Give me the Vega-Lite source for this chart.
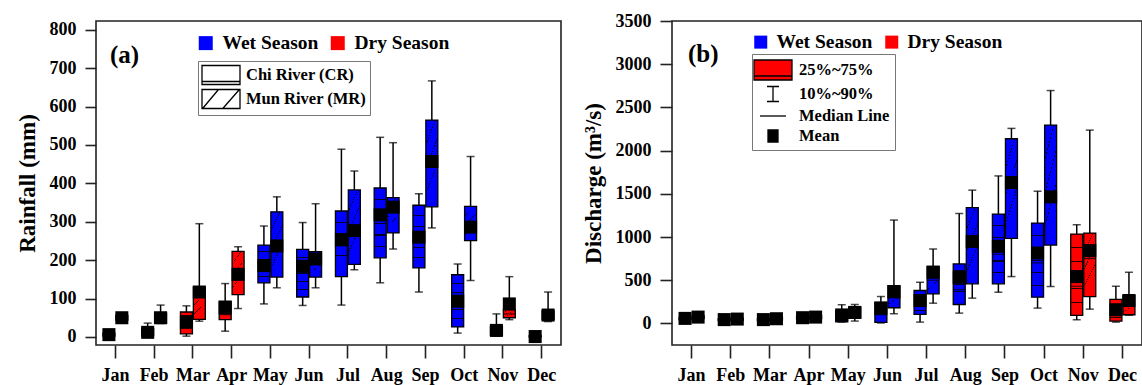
{
  "$schema": "https://vega.github.io/schema/vega-lite/v6.json",
  "background": "white",
  "padding": {"left": 15, "top": 11, "right": 0, "bottom": 0},
  "spacing": 19,
  "datasets": {
    "rain": [
      {"m":"Jan","r":"CR","s":"Dry Season","p10":1,"q1":2,"med":5,"q3":10,"p90":14,"mean":6},
      {"m":"Jan","r":"MR","s":"Dry Season","p10":40,"q1":44,"med":49,"q3":56,"p90":60,"mean":50},
      {"m":"Feb","r":"CR","s":"Dry Season","p10":1,"q1":3,"med":10,"q3":22,"p90":36,"mean":12},
      {"m":"Feb","r":"MR","s":"Dry Season","p10":35,"q1":36,"med":48,"q3":62,"p90":83,"mean":50},
      {"m":"Mar","r":"CR","s":"Dry Season","p10":2,"q1":8,"med":35,"q3":65,"p90":81,"mean":38},
      {"m":"Mar","r":"MR","s":"Dry Season","p10":41,"q1":46,"med":105,"q3":130,"p90":295,"mean":117},
      {"m":"Apr","r":"CR","s":"Dry Season","p10":15,"q1":45,"med":58,"q3":93,"p90":139,"mean":76},
      {"m":"Apr","r":"MR","s":"Dry Season","p10":74,"q1":110,"med":160,"q3":223,"p90":235,"mean":163},
      {"m":"May","r":"CR","s":"Wet Season","p10":86,"q1":141,"med":185,"q3":239,"p90":289,"mean":186},
      {"m":"May","r":"MR","s":"Wet Season","p10":128,"q1":156,"med":230,"q3":326,"p90":365,"mean":237},
      {"m":"Jun","r":"CR","s":"Wet Season","p10":82,"q1":104,"med":170,"q3":228,"p90":298,"mean":184},
      {"m":"Jun","r":"MR","s":"Wet Season","p10":128,"q1":156,"med":200,"q3":222,"p90":347,"mean":203},
      {"m":"Jul","r":"CR","s":"Wet Season","p10":83,"q1":157,"med":245,"q3":328,"p90":489,"mean":253},
      {"m":"Jul","r":"MR","s":"Wet Season","p10":175,"q1":189,"med":270,"q3":383,"p90":432,"mean":277},
      {"m":"Aug","r":"CR","s":"Wet Season","p10":141,"q1":206,"med":320,"q3":388,"p90":520,"mean":318},
      {"m":"Aug","r":"MR","s":"Wet Season","p10":229,"q1":271,"med":335,"q3":363,"p90":506,"mean":338},
      {"m":"Sep","r":"CR","s":"Wet Season","p10":117,"q1":180,"med":255,"q3":343,"p90":373,"mean":260},
      {"m":"Sep","r":"MR","s":"Wet Season","p10":284,"q1":339,"med":450,"q3":565,"p90":667,"mean":457},
      {"m":"Oct","r":"CR","s":"Wet Season","p10":10,"q1":26,"med":90,"q3":162,"p90":190,"mean":93},
      {"m":"Oct","r":"MR","s":"Wet Season","p10":147,"q1":251,"med":290,"q3":340,"p90":470,"mean":286},
      {"m":"Nov","r":"CR","s":"Dry Season","p10":2,"q1":5,"med":15,"q3":28,"p90":60,"mean":17},
      {"m":"Nov","r":"MR","s":"Dry Season","p10":45,"q1":50,"med":60,"q3":71,"p90":157,"mean":86},
      {"m":"Dec","r":"CR","s":"Dry Season","p10":0,"q1":0,"med":1,"q3":3,"p90":5,"mean":1},
      {"m":"Dec","r":"MR","s":"Dry Season","p10":40,"q1":45,"med":52,"q3":68,"p90":117,"mean":57}
    ],
    "dis": [
      {"m":"Jan","r":"CR","s":"Dry Season","p10":30,"q1":40,"med":55,"q3":70,"p90":90,"mean":58},
      {"m":"Jan","r":"MR","s":"Dry Season","p10":45,"q1":55,"med":70,"q3":90,"p90":110,"mean":73},
      {"m":"Feb","r":"CR","s":"Dry Season","p10":25,"q1":32,"med":42,"q3":55,"p90":70,"mean":44},
      {"m":"Feb","r":"MR","s":"Dry Season","p10":28,"q1":35,"med":48,"q3":62,"p90":78,"mean":50},
      {"m":"Mar","r":"CR","s":"Dry Season","p10":25,"q1":32,"med":42,"q3":55,"p90":70,"mean":44},
      {"m":"Mar","r":"MR","s":"Dry Season","p10":30,"q1":38,"med":52,"q3":68,"p90":85,"mean":54},
      {"m":"Apr","r":"CR","s":"Dry Season","p10":40,"q1":50,"med":64,"q3":80,"p90":100,"mean":66},
      {"m":"Apr","r":"MR","s":"Dry Season","p10":45,"q1":55,"med":70,"q3":90,"p90":115,"mean":73},
      {"m":"May","r":"CR","s":"Wet Season","p10":15,"q1":18,"med":80,"q3":150,"p90":216,"mean":98},
      {"m":"May","r":"MR","s":"Wet Season","p10":27,"q1":60,"med":120,"q3":190,"p90":219,"mean":127},
      {"m":"Jun","r":"CR","s":"Wet Season","p10":5,"q1":12,"med":100,"q3":245,"p90":311,"mean":175},
      {"m":"Jun","r":"MR","s":"Wet Season","p10":112,"q1":181,"med":300,"q3":438,"p90":1196,"mean":366},
      {"m":"Jul","r":"CR","s":"Wet Season","p10":15,"q1":104,"med":196,"q3":381,"p90":476,"mean":265},
      {"m":"Jul","r":"MR","s":"Wet Season","p10":234,"q1":342,"med":500,"q3":661,"p90":861,"mean":592},
      {"m":"Aug","r":"CR","s":"Wet Season","p10":119,"q1":219,"med":390,"q3":688,"p90":1272,"mean":534},
      {"m":"Aug","r":"MR","s":"Wet Season","p10":292,"q1":458,"med":900,"q3":1341,"p90":1542,"mean":949},
      {"m":"Sep","r":"CR","s":"Wet Season","p10":361,"q1":458,"med":800,"q3":1265,"p90":1707,"mean":892},
      {"m":"Sep","r":"MR","s":"Wet Season","p10":542,"q1":984,"med":1600,"q3":2137,"p90":2257,"mean":1630},
      {"m":"Oct","r":"CR","s":"Wet Season","p10":177,"q1":303,"med":700,"q3":1161,"p90":1530,"mean":815},
      {"m":"Oct","r":"MR","s":"Wet Season","p10":427,"q1":907,"med":1400,"q3":2295,"p90":2695,"mean":1465},
      {"m":"Nov","r":"CR","s":"Dry Season","p10":42,"q1":92,"med":430,"q3":1034,"p90":1142,"mean":542},
      {"m":"Nov","r":"MR","s":"Dry Season","p10":165,"q1":311,"med":750,"q3":1046,"p90":2237,"mean":842},
      {"m":"Dec","r":"CR","s":"Dry Season","p10":15,"q1":27,"med":120,"q3":277,"p90":430,"mean":158},
      {"m":"Dec","r":"MR","s":"Dry Season","p10":95,"q1":100,"med":200,"q3":323,"p90":592,"mean":265}
    ]
  },
  "config": {
    "font": "Liberation Serif",
    "view": {"stroke": "#222", "strokeWidth": 1.6},
    "axis": {
      "labelFont": "Liberation Serif", "labelFontWeight": "bold", "labelFontSize": 18, "labelColor": "black",
      "titleFont": "Liberation Serif", "titleFontWeight": "bold", "titleFontSize": 23, "titleColor": "black",
      "tickColor": "#222", "tickWidth": 1.6, "domain": false, "grid": false
    },
    "legend": {
      "labelFont": "Liberation Serif", "labelFontWeight": "bold", "labelColor": "black",
      "titleFont": "Liberation Serif", "titleFontWeight": "bold", "titleColor": "black"
    }
  },
  "resolve": {"scale": {"x": "independent", "y": "independent", "fill": "independent", "shape": "independent", "stroke": "independent", "xOffset": "independent"}},
  "hconcat": [
    {
      "width": 465, "height": 324,
      "data": {"name": "rain"},
      "encoding": {
        "x": {"field": "m", "type": "nominal", "scale": {"domain": ["Jan","Feb","Mar","Apr","May","Jun","Jul","Aug","Sep","Oct","Nov","Dec"], "paddingInner": 0, "paddingOuter": 0}, "axis": {"title": null, "labelAngle": 0, "tickSize": 13, "labelPadding": 8}},
        "xOffset": {"field": "r", "type": "nominal", "scale": {"domain": ["CR","MR"], "paddingOuter": 0.5, "paddingInner": 0}}
      },
      "layer": [
        {"mark": {"type": "rule", "color": "black", "strokeWidth": 1.5},
         "encoding": {"y": {"field": "p10", "type": "quantitative", "scale": {"domain": [-21, 823], "nice": false, "zero": false},
            "axis": {"title": "Rainfall (mm)", "values": [0,50,100,150,200,250,300,350,400,450,500,550,600,650,700,750,800], "labelExpr": "datum.value % 100 === 0 ? datum.label : ''", "tickSize": {"condition": {"test": "datum.value % 100 !== 0", "value": 6}, "value": 11}, "labelPadding": 9, "titlePadding": 10}},
          "y2": {"field": "p90"}}},
        {"mark": {"type": "tick", "color": "black", "thickness": 1.5, "size": 8}, "encoding": {"y": {"field": "p10", "type": "quantitative"}}},
        {"mark": {"type": "tick", "color": "black", "thickness": 1.5, "size": 8}, "encoding": {"y": {"field": "p90", "type": "quantitative"}}},
        {"mark": {"type": "bar", "width": 12, "stroke": "black", "strokeWidth": 1.3},
         "encoding": {"y": {"field": "q1", "type": "quantitative"}, "y2": {"field": "q3"},
           "fill": {"field": "s", "type": "nominal", "scale": {"domain": ["Wet Season", "Dry Season"], "range": ["#0000ff", "#ff0000"]},
             "legend": {"title": "(a)", "titleOrient": "left", "titleFontSize": 25, "titlePadding": 56, "titleBaseline": "top", "orient": "none", "legendX": 14, "legendY": 12, "direction": "horizontal", "symbolType": "square", "symbolSize": 196, "symbolStrokeWidth": 0, "labelFontSize": 19.5, "labelOffset": 7, "columnPadding": 9}}}},
        {"transform": [{"filter": "datum.r === 'CR'"}],
         "mark": {"type": "bar", "width": 11, "strokeWidth": 0, "fill": {"gradient": "linear", "x1": 0, "y1": 0, "x2": 0, "y2": 1, "stops": [
            {"offset": 0, "color": "rgba(0,0,0,0)"}, {"offset": 0.16, "color": "rgba(0,0,0,0)"}, {"offset": 0.16, "color": "rgba(0,0,0,0.85)"}, {"offset": 0.175, "color": "rgba(0,0,0,0.85)"}, {"offset": 0.175, "color": "rgba(0,0,0,0)"},
            {"offset": 0.33, "color": "rgba(0,0,0,0)"}, {"offset": 0.33, "color": "rgba(0,0,0,0.85)"}, {"offset": 0.345, "color": "rgba(0,0,0,0.85)"}, {"offset": 0.345, "color": "rgba(0,0,0,0)"},
            {"offset": 0.5, "color": "rgba(0,0,0,0)"}, {"offset": 0.5, "color": "rgba(0,0,0,0.85)"}, {"offset": 0.515, "color": "rgba(0,0,0,0.85)"}, {"offset": 0.515, "color": "rgba(0,0,0,0)"},
            {"offset": 0.665, "color": "rgba(0,0,0,0)"}, {"offset": 0.665, "color": "rgba(0,0,0,0.85)"}, {"offset": 0.68, "color": "rgba(0,0,0,0.85)"}, {"offset": 0.68, "color": "rgba(0,0,0,0)"},
            {"offset": 0.83, "color": "rgba(0,0,0,0)"}, {"offset": 0.83, "color": "rgba(0,0,0,0.85)"}, {"offset": 0.845, "color": "rgba(0,0,0,0.85)"}, {"offset": 0.845, "color": "rgba(0,0,0,0)"},
            {"offset": 1, "color": "rgba(0,0,0,0)"}]}},
         "encoding": {"y": {"field": "q1", "type": "quantitative"}, "y2": {"field": "q3"}}},
        {"transform": [{"filter": "datum.r === 'MR'"}],
         "mark": {"type": "bar", "width": 11, "strokeWidth": 0, "fill": {"gradient": "linear", "x1": 0, "y1": 0, "x2": 0.35, "y2": 1, "stops": [
            {"offset": 0, "color": "rgba(0,0,0,0)"}, {"offset": 0.24, "color": "rgba(0,0,0,0)"}, {"offset": 0.24, "color": "rgba(0,0,0,0.8)"}, {"offset": 0.255, "color": "rgba(0,0,0,0.8)"}, {"offset": 0.255, "color": "rgba(0,0,0,0)"},
            {"offset": 0.49, "color": "rgba(0,0,0,0)"}, {"offset": 0.49, "color": "rgba(0,0,0,0.8)"}, {"offset": 0.505, "color": "rgba(0,0,0,0.8)"}, {"offset": 0.505, "color": "rgba(0,0,0,0)"},
            {"offset": 0.74, "color": "rgba(0,0,0,0)"}, {"offset": 0.74, "color": "rgba(0,0,0,0.8)"}, {"offset": 0.755, "color": "rgba(0,0,0,0.8)"}, {"offset": 0.755, "color": "rgba(0,0,0,0)"},
            {"offset": 1, "color": "rgba(0,0,0,0)"}]}},
         "encoding": {"y": {"field": "q1", "type": "quantitative"}, "y2": {"field": "q3"}}},
        {"mark": {"type": "tick", "color": "black", "thickness": 1.2, "size": 12}, "encoding": {"y": {"field": "med", "type": "quantitative"}}},
        {"mark": {"type": "square", "size": 170, "color": "black", "filled": true, "opacity": 1}, "encoding": {"y": {"field": "mean", "type": "quantitative"}}},
        {"mark": {"type": "point", "opacity": 0, "filled": false},
         "encoding": {"y": {"field": "mean", "type": "quantitative"},
           "shape": {"field": "r", "type": "nominal", "scale": {"domain": ["CR", "MR"], "range": ["M-1.9,-0.95H1.9V0.95H-1.9ZM-1.9,0.65H1.9", "M-1.9,-0.95H1.9V0.95H-1.9ZM-1.84,0.95L-0.25,-0.95M0.18,0.95L1.84,-0.95"]},
             "legend": {"title": null, "orient": "none", "legendX": 102, "legendY": 40, "strokeColor": "#777", "padding": 3, "symbolSize": 400, "symbolOffset": 9, "symbolStrokeColor": "black", "symbolStrokeWidth": 1.3, "symbolFillColor": "transparent", "symbolOpacity": 1, "labelFontSize": 16.5, "labelOffset": 14, "rowPadding": -11,
               "labelExpr": "datum.value === 'CR' ? 'Chi River (CR)' : 'Mun River (MR)'"}}}}
      ]
    },
    {
      "width": 470, "height": 324,
      "resolve": {"scale": {"fill": "independent", "shape": "independent", "stroke": "independent"}},
      "layer": [
        {
          "data": {"name": "dis"},
          "encoding": {
            "x": {"field": "m", "type": "nominal", "scale": {"domain": ["Jan","Feb","Mar","Apr","May","Jun","Jul","Aug","Sep","Oct","Nov","Dec"], "paddingInner": 0, "paddingOuter": 0}, "axis": {"title": null, "labelAngle": 0, "tickSize": 13, "labelPadding": 8}},
            "xOffset": {"field": "r", "type": "nominal", "scale": {"domain": ["CR","MR"], "paddingOuter": 0.5, "paddingInner": 0}}
          },
          "layer": [
            {"mark": {"type": "rule", "color": "black", "strokeWidth": 1.5},
             "encoding": {"y": {"field": "p10", "type": "quantitative", "scale": {"domain": [-250, 3500], "nice": false, "zero": false},
                "axis": {"title": "Discharge (m³/s)", "values": [0,250,500,750,1000,1250,1500,1750,2000,2250,2500,2750,3000,3250,3500], "labelExpr": "datum.value % 500 === 0 ? datum.label : ''", "tickSize": {"condition": {"test": "datum.value % 500 !== 0", "value": 6}, "value": 12}, "labelPadding": 9, "titlePadding": 10, "format": "d"}},
              "y2": {"field": "p90"}}},
            {"mark": {"type": "tick", "color": "black", "thickness": 1.5, "size": 8}, "encoding": {"y": {"field": "p10", "type": "quantitative"}}},
            {"mark": {"type": "tick", "color": "black", "thickness": 1.5, "size": 8}, "encoding": {"y": {"field": "p90", "type": "quantitative"}}},
            {"mark": {"type": "bar", "width": 12, "stroke": "black", "strokeWidth": 1.3},
             "encoding": {"y": {"field": "q1", "type": "quantitative"}, "y2": {"field": "q3"},
               "fill": {"field": "s", "type": "nominal", "scale": {"domain": ["Wet Season", "Dry Season"], "range": ["#0000ff", "#ff0000"]},
                 "legend": {"title": "(b)", "titleOrient": "left", "titleFontSize": 25, "titlePadding": 32, "titleBaseline": "top", "orient": "none", "legendX": 16, "legendY": 11, "direction": "horizontal", "symbolType": "square", "symbolSize": 169, "symbolStrokeWidth": 0, "labelFontSize": 19.5, "labelOffset": 6, "columnPadding": 9}}}},
            {"transform": [{"filter": "datum.r === 'CR'"}],
             "mark": {"type": "bar", "width": 11, "strokeWidth": 0, "fill": {"gradient": "linear", "x1": 0, "y1": 0, "x2": 0, "y2": 1, "stops": [
                {"offset": 0, "color": "rgba(0,0,0,0)"}, {"offset": 0.16, "color": "rgba(0,0,0,0)"}, {"offset": 0.16, "color": "rgba(0,0,0,0.85)"}, {"offset": 0.175, "color": "rgba(0,0,0,0.85)"}, {"offset": 0.175, "color": "rgba(0,0,0,0)"},
                {"offset": 0.33, "color": "rgba(0,0,0,0)"}, {"offset": 0.33, "color": "rgba(0,0,0,0.85)"}, {"offset": 0.345, "color": "rgba(0,0,0,0.85)"}, {"offset": 0.345, "color": "rgba(0,0,0,0)"},
                {"offset": 0.5, "color": "rgba(0,0,0,0)"}, {"offset": 0.5, "color": "rgba(0,0,0,0.85)"}, {"offset": 0.515, "color": "rgba(0,0,0,0.85)"}, {"offset": 0.515, "color": "rgba(0,0,0,0)"},
                {"offset": 0.665, "color": "rgba(0,0,0,0)"}, {"offset": 0.665, "color": "rgba(0,0,0,0.85)"}, {"offset": 0.68, "color": "rgba(0,0,0,0.85)"}, {"offset": 0.68, "color": "rgba(0,0,0,0)"},
                {"offset": 0.83, "color": "rgba(0,0,0,0)"}, {"offset": 0.83, "color": "rgba(0,0,0,0.85)"}, {"offset": 0.845, "color": "rgba(0,0,0,0.85)"}, {"offset": 0.845, "color": "rgba(0,0,0,0)"},
                {"offset": 1, "color": "rgba(0,0,0,0)"}]}},
             "encoding": {"y": {"field": "q1", "type": "quantitative"}, "y2": {"field": "q3"}}},
            {"transform": [{"filter": "datum.r === 'MR'"}],
             "mark": {"type": "bar", "width": 11, "strokeWidth": 0, "fill": {"gradient": "linear", "x1": 0, "y1": 0, "x2": 0.35, "y2": 1, "stops": [
                {"offset": 0, "color": "rgba(0,0,0,0)"}, {"offset": 0.24, "color": "rgba(0,0,0,0)"}, {"offset": 0.24, "color": "rgba(0,0,0,0.8)"}, {"offset": 0.255, "color": "rgba(0,0,0,0.8)"}, {"offset": 0.255, "color": "rgba(0,0,0,0)"},
                {"offset": 0.49, "color": "rgba(0,0,0,0)"}, {"offset": 0.49, "color": "rgba(0,0,0,0.8)"}, {"offset": 0.505, "color": "rgba(0,0,0,0.8)"}, {"offset": 0.505, "color": "rgba(0,0,0,0)"},
                {"offset": 0.74, "color": "rgba(0,0,0,0)"}, {"offset": 0.74, "color": "rgba(0,0,0,0.8)"}, {"offset": 0.755, "color": "rgba(0,0,0,0.8)"}, {"offset": 0.755, "color": "rgba(0,0,0,0)"},
                {"offset": 1, "color": "rgba(0,0,0,0)"}]}},
             "encoding": {"y": {"field": "q1", "type": "quantitative"}, "y2": {"field": "q3"}}},
            {"mark": {"type": "tick", "color": "black", "thickness": 1.2, "size": 12}, "encoding": {"y": {"field": "med", "type": "quantitative"}}},
            {"mark": {"type": "square", "size": 170, "color": "black", "filled": true, "opacity": 1}, "encoding": {"y": {"field": "mean", "type": "quantitative"}}}
          ]
        },
        {
          "data": {"values": [{"stat": "25%~75%"}, {"stat": "10%~90%"}, {"stat": "Median Line"}, {"stat": "Mean"}]},
          "mark": {"type": "point", "opacity": 0, "filled": true, "strokeWidth": 1.3},
          "encoding": {
            "fill": {"field": "stat", "type": "nominal",
              "scale": {"domain": ["25%~75%", "10%~90%", "Median Line", "Mean"], "range": ["#ff0000", "transparent", "transparent", "black"]},
              "legend": {"title": null, "orient": "none", "legendX": 80, "legendY": 33, "strokeColor": "#777", "padding": 5, "symbolSize": 400, "symbolOffset": 5, "symbolStrokeWidth": 1.3, "symbolOpacity": 1, "labelFontSize": 16.5, "labelOffset": 15, "rowPadding": -1}},
            "stroke": {"field": "stat", "type": "nominal",
              "scale": {"domain": ["25%~75%", "10%~90%", "Median Line", "Mean"], "range": ["black", "black", "black", "black"]},
              "legend": {"title": null, "orient": "none", "legendX": 80, "legendY": 33, "strokeColor": "#777", "padding": 5, "symbolSize": 400, "symbolOffset": 5, "symbolStrokeWidth": 1.3, "symbolOpacity": 1, "labelFontSize": 16.5, "labelOffset": 15, "rowPadding": -1}},
            "shape": {"field": "stat", "type": "nominal",
              "scale": {"domain": ["25%~75%", "10%~90%", "Median Line", "Mean"], "range": ["M-1.9,-1H1.9V1H-1.9ZM-1.9,0.6H1.9", "M-0.6,-0.75H0.6M0,-0.75V0.75M-0.6,0.75H0.6", "M-1.3,0H1.3", "M-0.5,-0.6H0.5V0.6H-0.5Z"]},
              "legend": {"title": null, "orient": "none", "legendX": 80, "legendY": 33, "strokeColor": "#777", "padding": 5, "symbolSize": 400, "symbolOffset": 5, "symbolStrokeWidth": 1.3, "symbolOpacity": 1, "labelFontSize": 16.5, "labelOffset": 15, "rowPadding": -1}}
          }
        }
      ]
    }
  ]
}
